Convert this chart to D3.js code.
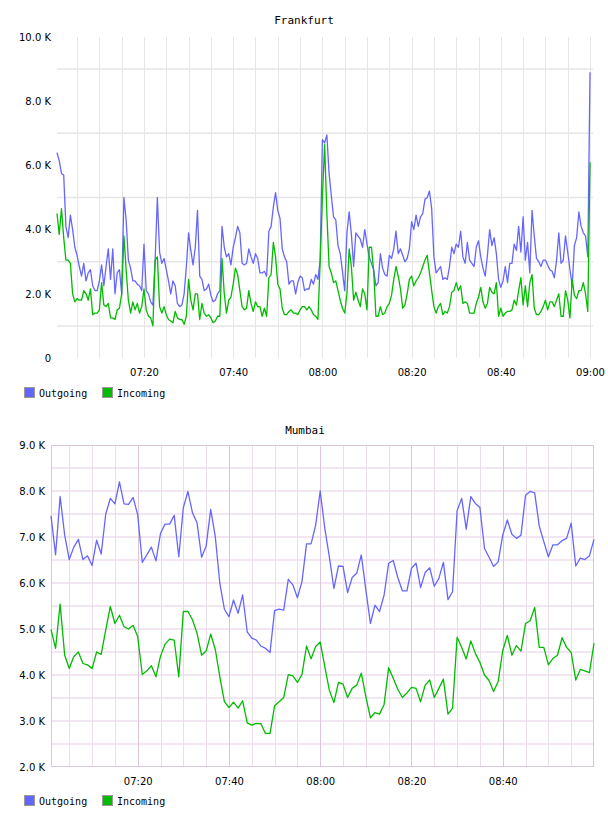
<!DOCTYPE html>
<html>
<head>
<meta charset="utf-8">
<script src="https://cdn.jsdelivr.net/npm/d3@7"></script>
<style>
  body { margin: 0; background: #fff; }
  svg { display: block; }
</style>
</head>
<body>
<div id="chart"></div>
<script>
const seriesNames = ["Outgoing", "Incoming"];
const seriesColors = ["#6666ff", "#00bb00"];

// Frankfurt, 30 s samples from 07:00:30, values in K
const ffStart = "07:00:30", ffStepSec = 30;
const ffOutgoing = [
  6.4, 6.15, 5.75, 5.7, 4.1, 3.75, 4.45, 4.0, 3.45, 3.2,
  2.85, 2.55, 2.95, 2.4, 2.65, 2.75, 2.25, 2.1, 2.1, 2.4,
  2.9, 2.25, 2.85, 3.4, 2.45, 3.4, 2.0, 2.65, 2.75, 2.0,
  5.0, 4.3, 3.05, 2.8, 2.4, 2.4, 2.3, 2.25, 2.1, 3.55,
  2.1, 2.0, 1.75, 1.65, 3.05, 5.0, 3.3, 2.95, 3.1, 2.75,
  2.4, 2.0, 2.4, 2.25, 1.7, 1.6, 1.65, 2.0, 2.85, 3.9,
  3.35, 2.9, 3.45, 4.6, 2.55, 2.45, 2.1, 2.15, 2.3, 1.95,
  1.75, 1.8, 2.0, 2.1, 4.1, 3.45, 3.15, 3.25, 2.9, 3.45,
  3.75, 4.1, 3.9, 2.95, 2.9, 2.95, 3.4, 3.15, 2.95, 3.25,
  3.1, 2.65, 2.65, 2.7, 2.55, 3.95, 4.1, 4.7, 5.15, 4.6,
  4.35, 3.4, 3.15, 3.0, 2.3, 2.4, 2.4, 2.0, 2.35, 2.55,
  2.5, 2.1, 2.15, 2.15, 2.45, 2.3, 2.6, 2.45, 3.05, 6.8,
  6.7, 6.95, 5.75, 5.05, 4.4, 4.3, 3.5, 3.25, 2.7, 2.1,
  3.9, 4.55, 3.85, 2.85, 3.9, 3.8, 3.7, 3.45, 4.0, 3.55,
  3.15, 2.95, 2.75, 2.25, 2.35, 3.25, 2.8, 2.6, 2.55, 3.2,
  3.1, 3.4, 3.95, 3.25, 3.4, 3.2, 3.0, 3.1, 3.4, 4.25,
  4.0, 4.45, 4.1, 4.4, 4.5, 4.95, 5.0, 5.2, 4.65, 3.15,
  2.65, 2.75, 2.85, 2.45, 2.5, 2.45, 2.85, 3.45, 3.25, 3.55,
  3.45, 3.95, 3.15, 2.95, 3.6, 3.05, 2.95, 2.85, 3.45, 3.65,
  3.15, 2.8, 2.55, 3.2, 4.0, 3.5, 3.75, 3.25, 2.45, 2.2,
  2.4, 2.85, 2.35, 2.95, 2.95, 3.55, 3.35, 4.1, 3.3, 4.4,
  3.05, 3.6, 2.65, 4.6, 3.8, 3.1, 3.0, 2.85, 3.05, 3.05,
  2.9, 2.75, 2.7, 2.5, 3.05, 3.9, 2.95, 3.05, 3.8, 3.3,
  2.75, 2.25, 3.5, 3.75, 4.55, 4.1, 3.9, 3.8, 3.15, 8.9
];
const ffIncoming = [
  4.5, 3.85, 4.65, 3.75, 3.05, 3.05, 2.95, 2.0, 1.75, 1.85,
  1.8, 1.8, 2.1, 2.0, 1.8, 2.15, 1.35, 1.4, 1.4, 1.5,
  2.35, 1.65, 1.6, 1.7, 1.25, 1.25, 1.2, 1.5, 1.55, 2.0,
  3.8, 2.75, 1.8, 1.4, 1.75, 1.5, 1.7, 1.4, 1.6, 2.15,
  1.5, 1.3, 1.25, 1.0, 3.05, 3.15, 1.6, 1.4, 1.6, 1.35,
  1.2, 1.15, 1.1, 1.45, 1.25, 1.2, 1.2, 1.05, 1.3, 2.45,
  1.8, 1.5, 2.0, 2.0, 1.2, 1.7, 1.4, 1.3, 1.35, 1.25,
  1.1, 1.15, 1.3, 1.3, 3.1, 2.0, 1.4, 1.8, 1.9, 2.3,
  2.8, 2.6, 2.1, 1.6, 1.5, 1.55, 2.1, 1.7, 1.45, 1.75,
  1.6, 1.6, 1.3, 1.55, 1.3, 2.5, 2.6, 3.6, 3.15, 2.3,
  2.15, 1.55, 1.35, 1.35, 1.45, 1.5, 1.4, 1.4, 1.35, 1.5,
  1.6, 1.6, 1.5, 1.6, 1.5, 1.35, 1.3, 1.2, 3.0, 5.0,
  6.65, 4.5, 2.85, 2.65, 2.35, 2.4, 2.1, 1.8, 1.55, 1.4,
  2.0, 3.4, 2.85, 1.8, 2.05, 1.8, 1.6, 2.15, 2.0, 1.5,
  3.45, 3.45, 2.7, 1.3, 1.3, 1.6, 1.35, 1.4, 1.6, 1.7,
  1.95, 2.45, 2.85, 2.55, 2.15, 1.55, 1.65, 2.0, 2.45, 2.55,
  2.25, 2.4, 2.5, 2.65, 2.85, 3.05, 3.2, 2.65, 2.1, 1.6,
  1.4, 1.6, 1.7, 1.35, 1.45, 1.4, 1.6, 2.05, 2.1, 2.35,
  2.1, 2.25, 1.7, 1.75, 1.7, 1.4, 1.4, 1.4, 1.7, 1.9,
  2.2, 1.75, 1.55, 1.7, 2.2, 2.05, 2.0, 2.35, 1.3, 1.55,
  1.3, 1.4, 1.45, 1.45, 1.5, 1.8, 1.65, 2.1, 2.5, 1.65,
  2.25, 1.6, 2.35, 2.6, 1.55, 1.35, 1.35, 1.45, 1.6, 1.8,
  1.5, 1.75, 1.75, 1.6, 1.8, 2.0, 1.3, 1.3, 2.1, 1.8,
  1.25, 2.45, 1.95, 1.85, 2.1, 2.1, 2.35, 2.0, 1.45, 6.1
];
const ffYTicks = [0, 2, 4, 6, 8, 10];
const ffYLabels = ["0", "2.0 K", "4.0 K", "6.0 K", "8.0 K", "10.0 K"];
const ffXTicks = ["07:20", "07:40", "08:00", "08:20", "08:40", "09:00"];

// Mumbai, 1 min samples from 07:01, values in K
const mbStart = "07:01:00", mbStepSec = 60;
const mbOutgoing = [
  7.46, 6.61, 7.88, 7.04, 6.51, 6.78, 6.95, 6.51, 6.59, 6.38,
  6.93, 6.63, 7.5, 7.84, 7.72, 8.2, 7.72, 7.71, 7.86, 7.48,
  6.45, 6.61, 6.78, 6.48, 7.08, 7.28, 7.28, 7.47, 6.57, 7.64,
  7.99, 7.53, 7.31, 6.56, 6.8, 7.6, 7.01, 5.99, 5.43, 5.27,
  5.63, 5.34, 5.74, 4.94, 4.8, 4.76, 4.63, 4.58, 4.49, 5.4,
  5.43, 5.41, 6.08, 5.96, 5.68, 6.03, 6.85, 6.85, 7.26, 8.0,
  7.19, 6.57, 5.88, 6.37, 6.36, 5.79, 6.12, 6.21, 6.61, 5.85,
  5.12, 5.52, 5.38, 5.74, 6.43, 6.49, 6.12, 5.83, 5.83, 6.32,
  6.43, 5.9, 6.23, 6.33, 5.93, 6.1, 6.45, 5.64, 5.81, 7.57,
  7.84, 7.17, 7.88, 7.73, 7.64, 6.75, 6.56, 6.36, 6.46, 7.04,
  7.37, 7.06, 6.97, 7.04, 7.91, 7.99, 7.96, 7.24, 6.9, 6.57,
  6.83, 6.83, 6.92, 6.97, 7.3, 6.37, 6.54, 6.51, 6.59, 6.95
];
const mbIncoming = [
  4.99, 4.58, 5.54, 4.43, 4.14, 4.4, 4.5, 4.25, 4.22, 4.14,
  4.5, 4.45, 4.98, 5.49, 5.12, 5.3, 5.05, 5.0, 5.08, 4.83,
  4.01, 4.09, 4.2, 3.96, 4.41, 4.67, 4.78, 4.76, 3.96, 5.38,
  5.38, 5.2, 4.91, 4.43, 4.52, 4.89, 4.56, 3.96, 3.42, 3.29,
  3.41, 3.28, 3.44, 2.96, 2.91, 2.95, 2.94, 2.73, 2.73, 3.33,
  3.42, 3.51, 4.01, 3.98, 3.84, 4.01, 4.63, 4.35, 4.62, 4.72,
  4.18, 3.67, 3.4, 3.84, 3.8, 3.51, 3.71, 3.78, 4.04, 3.53,
  3.07, 3.18, 3.15, 3.36, 4.16, 3.93, 3.69, 3.51, 3.61, 3.73,
  3.71, 3.42, 3.78, 3.89, 3.51, 3.71, 3.91, 3.15, 3.28, 4.82,
  4.6, 4.35, 4.74, 4.47, 4.27, 4.0, 3.88, 3.64, 3.86, 4.53,
  4.86, 4.43, 4.64, 4.52, 5.12, 5.18, 5.47, 4.6, 4.6, 4.22,
  4.36, 4.43, 4.81, 4.6, 4.49, 3.89, 4.12, 4.09, 4.05, 4.69
];
const mbYTicks = [2, 3, 4, 5, 6, 7, 8, 9];
const mbYLabels = ["2.0 K", "3.0 K", "4.0 K", "5.0 K", "6.0 K", "7.0 K", "8.0 K", "9.0 K"];
const mbXTicks = ["07:20", "07:40", "08:00", "08:20", "08:40"];

const parseTime = d3.timeParse("%H:%M:%S");
const parseHM = d3.timeParse("%H:%M");
const monoFont = "'DejaVu Sans Mono', monospace";
const sansFont = "'DejaVu Sans', sans-serif";

const svg = d3.select("#chart")
    .append("svg")
    .attr("width", 608)
    .attr("height", 816);

function toPoints(start, step, values) {
    const t0 = parseTime(start);
    return values.map((v, i) => ({ t: d3.timeSecond.offset(t0, i * step), v: v }));
}

function drawPanel(p) {
    const g = svg.append("g");
    const x = d3.scaleTime().domain([parseTime(p.x0), parseTime(p.x1)]).range([p.left, p.right]);
    const y = d3.scaleLinear().domain(p.yDomain).range([p.bottom, p.top]);

    // title
    g.append("text")
        .attr("x", p.titleX)
        .attr("y", p.titleY)
        .attr("text-anchor", "middle")
        .style("font-family", monoFont)
        .style("font-size", "11px")
        .text(p.title);

    // horizontal grid
    g.append("g").selectAll("line")
        .data(p.hGrid)
        .join("line")
        .attr("x1", p.left).attr("x2", p.right)
        .attr("y1", d => y(d)).attr("y2", d => y(d))
        .attr("stroke", p.hColor)
        .attr("stroke-width", p.hWidth);

    // vertical grid, every 5 min
    const minorTicks = x.ticks(d3.timeMinute.every(5)).filter(d => x(d) > p.left + 1 && x(d) < p.right);
    g.append("g").selectAll("line")
        .data(minorTicks)
        .join("line")
        .attr("x1", d => Math.round(x(d)) + 0.5).attr("x2", d => Math.round(x(d)) + 0.5)
        .attr("y1", p.top).attr("y2", p.bottom)
        .attr("stroke", d => d.getMinutes() % 20 === 0 ? p.vMajorColor : p.vColor)
        .attr("stroke-width", 1);

    if (p.frame) {
        g.append("rect")
            .attr("x", p.left + 0.5).attr("y", p.top + 0.5)
            .attr("width", p.right - p.left - 1).attr("height", p.bottom - p.top - 1)
            .attr("fill", "none")
            .attr("stroke", p.frame);
    }

    // y axis labels
    const yAxis = g.append("g")
        .attr("transform", `translate(${p.yLabelX},0)`)
        .call(d3.axisLeft(y).tickValues(p.yTicks).tickSize(0).tickPadding(0)
            .tickFormat((d, i) => p.yLabels[i]));
    yAxis.select(".domain").remove();
    yAxis.selectAll("text")
        .style("font-family", sansFont)
        .style("font-size", "10px")
        .attr("fill", "#000");

    // x axis labels
    const xAxis = g.append("g")
        .attr("transform", `translate(0,${p.xLabelY})`)
        .call(d3.axisBottom(x).tickValues(p.xTicks.map(s => parseHM(s))).tickSize(0).tickPadding(0)
            .tickFormat((d, i) => p.xTicks[i]));
    xAxis.select(".domain").remove();
    xAxis.selectAll("text")
        .style("font-family", sansFont)
        .style("font-size", "10px")
        .attr("fill", "#000");

    // series lines
    const line = d3.line().x(d => x(d.t)).y(d => y(d.v));
    p.series.forEach((s, i) => {
        g.append("path")
            .datum(toPoints(p.start, p.step, s))
            .attr("fill", "none")
            .attr("stroke", seriesColors[i])
            .attr("stroke-width", 1.3)
            .attr("stroke-linejoin", "round")
            .attr("d", line);
    });

    // legend
    const legend = g.append("g").attr("transform", `translate(24,${p.legendY})`);
    const items = legend.selectAll("g")
        .data(seriesNames)
        .join("g")
        .attr("transform", (d, i) => `translate(${i * 78},0)`);
    items.append("rect")
        .attr("x", 0.5).attr("y", 0.5)
        .attr("width", 10).attr("height", 10)
        .attr("fill", (d, i) => seriesColors[i])
        .attr("stroke", "#999");
    items.append("text")
        .attr("x", 15).attr("y", 9.5)
        .style("font-family", monoFont)
        .style("font-size", "10px")
        .text(d => d);
}

drawPanel({
    title: "Frankfurt", titleX: 304, titleY: 24,
    x0: "07:00:30", x1: "09:00:40", left: 57, right: 593,
    yDomain: [0, 10], top: 37, bottom: 358,
    hGrid: [1, 3, 5, 7, 9], hColor: "#e6e6e6", hWidth: 1.5,
    vColor: "#e6e6e6", vMajorColor: "#e6e6e6", frame: null,
    yTicks: ffYTicks, yLabels: ffYLabels, yLabelX: 51,
    xTicks: ffXTicks, xLabelY: 369,
    start: ffStart, step: ffStepSec, series: [ffOutgoing, ffIncoming],
    legendY: 387
});

drawPanel({
    title: "Mumbai", titleX: 305, titleY: 434,
    x0: "07:01:00", x1: "09:00:00", left: 51, right: 594,
    yDomain: [2, 9], top: 445, bottom: 767,
    hGrid: d3.range(2.5, 9, 0.5), hColor: "#f2e6f2", hWidth: 2,
    vColor: "#ebdeeb", vMajorColor: "#dcc6dc", frame: "#dcc6dc",
    yTicks: mbYTicks, yLabels: mbYLabels, yLabelX: 45,
    xTicks: mbXTicks, xLabelY: 778,
    start: mbStart, step: mbStepSec, series: [mbOutgoing, mbIncoming],
    legendY: 795
});
</script>
</body>
</html>
